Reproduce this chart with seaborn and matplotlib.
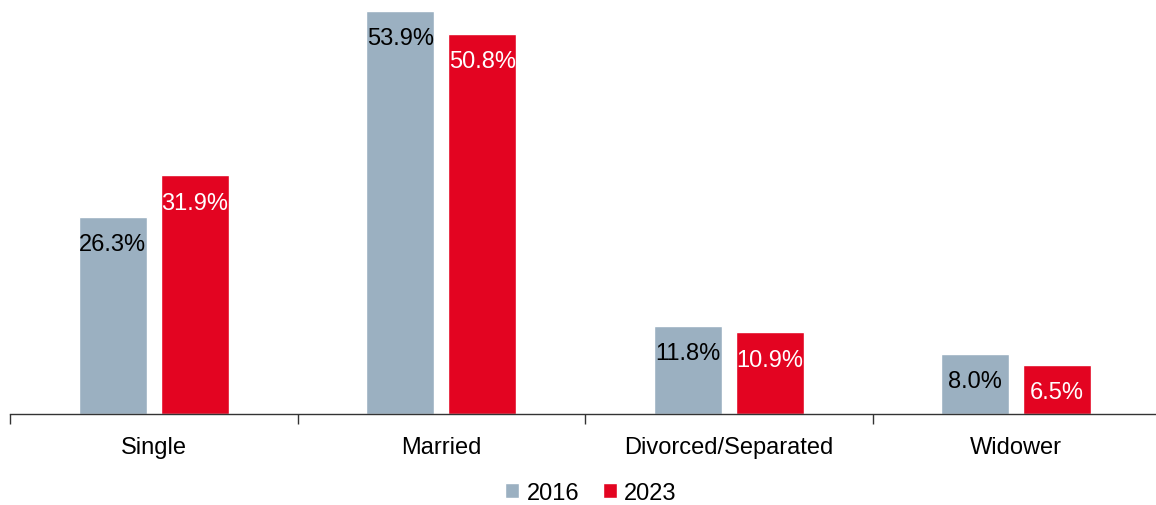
import pandas as pd
import matplotlib.pyplot as plt
import seaborn as sns

categories = ['Single', 'Married', 'Divorced/Separated', 'Widower']
years = ['2016', '2023']
share_2016 = [26.3, 53.9, 11.8, 8.0]
share_2023 = [31.9, 50.8, 10.9, 6.5]

gray = '#9BB0C1'
red = '#E30421'

df = pd.DataFrame({
    'status': categories * 2,
    'year': [years[0]] * 4 + [years[1]] * 4,
    'share': share_2016 + share_2023,
})

sns.set_theme(style='white')
plt.rcParams['font.family'] = ['Liberation Sans', 'DejaVu Sans']
plt.rcParams['text.color'] = 'black'
plt.rcParams['xtick.color'] = 'black'

fig = plt.figure(figsize=(11.56, 5.06), dpi=100)
ax = fig.add_axes([10 / 1156, 91 / 506, 1150 / 1156, 415 / 506])

sns.barplot(data=df, x='status', y='share', hue='year', order=categories,
            hue_order=years, palette=[gray, red], width=0.57, gap=0.17,
            saturation=1, ax=ax)

ax.set_ylim(0, 55.5)
ax.set_xlim(-0.5, 3.5)

# value labels just inside the top of each bar
text_colors = ['black', 'white']
for cont, tc in zip(ax.containers, text_colors):
    for bar in cont:
        h = bar.get_height()
        ax.annotate(f'{h:.1f}%', (bar.get_x() + bar.get_width() / 2, h),
                    xytext=(0, -19.5), textcoords='offset points',
                    ha='center', va='center', color=tc, fontsize=17)

# axes styling
for s in ['top', 'right', 'left']:
    ax.spines[s].set_visible(False)
ax.spines['bottom'].set_color('#333333')
ax.spines['bottom'].set_linewidth(1)
ax.set_yticks([])
ax.set_xlabel('')
ax.set_ylabel('')
ax.set_xticks(range(4))
ax.set_xticklabels(categories, fontsize=17)
ax.tick_params(axis='x', which='major', length=0, pad=16, labelcolor='black')
ax.set_xticks([-0.5, 0.5, 1.5, 2.5, 3.5], minor=True)
ax.tick_params(axis='x', which='minor', length=7, width=1, color='#333333',
               direction='out', bottom=True)

ax.legend(loc='lower center', bbox_to_anchor=(0.505, -0.24), ncol=2,
          frameon=False, fontsize=17, handlelength=0.6, handleheight=0.6,
          handletextpad=0.3, columnspacing=1.0, borderaxespad=0)

plt.savefig('out.png', dpi=100)
